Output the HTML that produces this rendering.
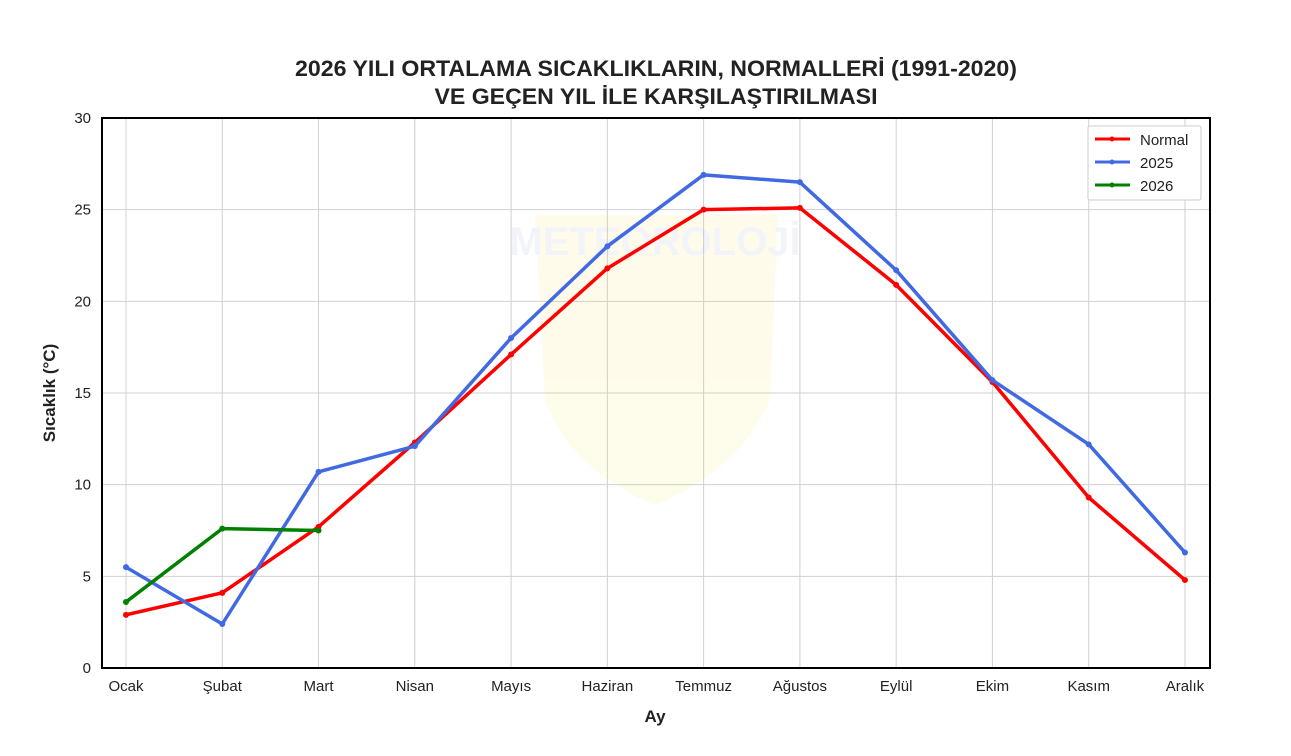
<!DOCTYPE html>
<html><head><meta charset="utf-8"><style>
body{margin:0;background:#fff;}
svg text{font-family:"Liberation Sans",Arial,sans-serif;fill:#222;}
</style></head><body>
<svg id="s" width="1291" height="751" xmlns="http://www.w3.org/2000/svg">
<text x="656" y="76" text-anchor="middle" font-size="22.5" font-weight="bold" textLength="722" lengthAdjust="spacingAndGlyphs">2026 YILI ORTALAMA SICAKLIKLARIN, NORMALLERİ (1991-2020)</text>
<text x="656" y="104" text-anchor="middle" font-size="22.5" font-weight="bold" textLength="443" lengthAdjust="spacingAndGlyphs">VE GEÇEN YIL İLE KARŞILAŞTIRILMASI</text>
<g id="grid"></g>
<g opacity="0.08">
<path d="M535 215 L778 215 L770 400 Q740 470 655 505 Q570 470 545 400 Z" fill="#f5d800"/>
<text x="655" y="255" text-anchor="middle" font-size="40" font-weight="bold" style="fill:#7080c0">METEOROLOJİ</text>
</g>
<g id="lines"></g>
<rect x="102" y="118" width="1108" height="550" fill="none" stroke="#000" stroke-width="2"/>
<g id="ticks"></g>
<text x="655" y="722" text-anchor="middle" font-size="17" font-weight="bold">Ay</text>
<text transform="translate(55,393) rotate(-90)" text-anchor="middle" font-size="17" font-weight="bold">Sıcaklık (°C)</text>
<g>
<rect x="1088" y="126" width="113" height="74" fill="#fff" stroke="#ccc" rx="2"/>
<line x1="1095" y1="139" x2="1130" y2="139" stroke="#ff0000" stroke-width="3"/><circle cx="1112" cy="139" r="2.5" fill="#ff0000"/>
<text x="1140" y="145" font-size="15">Normal</text>
<line x1="1095" y1="162" x2="1130" y2="162" stroke="#4169e1" stroke-width="3"/><circle cx="1112" cy="162" r="2.5" fill="#4169e1"/>
<text x="1140" y="168" font-size="15">2025</text>
<line x1="1095" y1="185" x2="1130" y2="185" stroke="#008000" stroke-width="3"/><circle cx="1112" cy="185" r="2.5" fill="#008000"/>
<text x="1140" y="191" font-size="15">2026</text>
</g>
</svg>
<script>
const X=i=>126+i*96.27, Y=v=>668-v*18.333;
const months=["Ocak","Şubat","Mart","Nisan","Mayıs","Haziran","Temmuz","Ağustos","Eylül","Ekim","Kasım","Aralık"];
let g="",t="";
for(let i=0;i<12;i++){g+=`<line x1="${X(i)}" y1="118" x2="${X(i)}" y2="668" stroke="#d0d0d0" stroke-width="1"/>`;
t+=`<text x="${X(i)}" y="691" text-anchor="middle" font-size="15">${months[i]}</text>`;}
for(let v=5;v<30;v+=5)g+=`<line x1="102" y1="${Y(v)}" x2="1210" y2="${Y(v)}" stroke="#d0d0d0" stroke-width="1"/>`;
for(let v=0;v<=30;v+=5)t+=`<text x="91" y="${Y(v)+5}" text-anchor="end" font-size="15">${v}</text>`;
document.getElementById("grid").innerHTML=g;document.getElementById("ticks").innerHTML=t;
const S=[["#ff0000",[2.9,4.1,7.7,12.3,17.1,21.8,25.0,25.1,20.9,15.6,9.3,4.8]],
["#4169e1",[5.5,2.4,10.7,12.1,18.0,23.0,26.9,26.5,21.7,15.7,12.2,6.3]],
["#008000",[3.6,7.6,7.5]]];
let l="";
for(const [c,d] of S){l+=`<polyline fill="none" stroke="${c}" stroke-width="3.5" stroke-linejoin="round" points="${d.map((v,i)=>X(i)+","+Y(v)).join(" ")}"/>`;
d.forEach((v,i)=>l+=`<circle cx="${X(i)}" cy="${Y(v)}" r="3" fill="${c}"/>`);}
document.getElementById("lines").innerHTML=l;
</script>
</body></html>
